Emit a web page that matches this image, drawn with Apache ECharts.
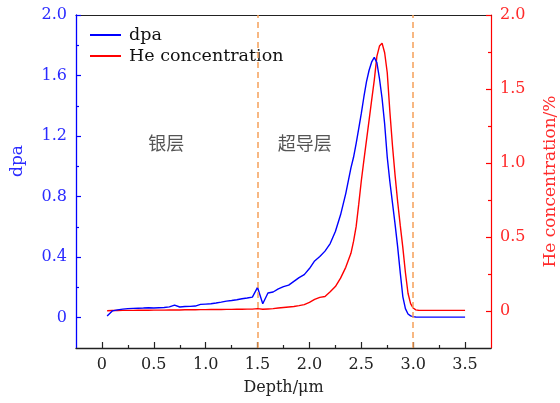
<!DOCTYPE html>
<html>
<head>
<meta charset="utf-8">
<script src="https://cdn.jsdelivr.net/npm/echarts@6/dist/echarts.min.js"></script>
<style>html,body{margin:0;padding:0;background:#fff}#c{width:560px;height:403px}</style>
</head>
<body>
<div id="c"></div>
<script>
// ---- data ----
const depth = [0.05,0.10,0.15,0.20,0.25,0.30,0.35,0.40,0.45,0.50,0.55,0.60,0.65,0.70,0.75,0.80,0.85,0.90,0.95,1.00,
  1.05,1.10,1.15,1.20,1.25,1.30,1.35,1.40,1.45,1.50,1.55,1.60,1.65,1.70,1.75,1.80,1.85,1.90,1.95,2.00,
  2.05,2.10,2.15,2.20,2.25,2.30,2.35,2.40,2.425,2.45,2.475,2.50,2.525,2.55,2.575,2.60,2.625,2.65,2.675,2.70,
  2.725,2.75,2.775,2.80,2.825,2.85,2.875,2.90,2.925,2.95,2.975,3.00,3.025,3.05,3.10,3.15,3.20,3.25,3.30,3.35,3.40,3.45,3.50];
const dpa = [0.011,0.045,0.052,0.057,0.060,0.062,0.063,0.064,0.066,0.064,0.066,0.068,0.072,0.083,0.071,0.074,0.075,0.077,0.088,0.090,
  0.092,0.097,0.103,0.110,0.114,0.119,0.125,0.130,0.136,0.200,0.092,0.163,0.170,0.190,0.205,0.215,0.240,0.265,0.285,0.325,
  0.375,0.405,0.440,0.490,0.570,0.680,0.820,0.990,1.060,1.150,1.250,1.350,1.460,1.560,1.635,1.690,1.720,1.685,1.580,1.450,
  1.280,1.060,0.900,0.760,0.620,0.470,0.300,0.140,0.060,0.025,0.012,0.007,0.005,0.004,0.004,0.004,0.004,0.004,0.004,0.004,0.004,0.004,0.004];
const he = [0.002,0.003,0.003,0.004,0.004,0.004,0.005,0.005,0.005,0.006,0.006,0.006,0.007,0.007,0.007,0.008,0.008,0.008,0.009,0.009,
  0.010,0.010,0.010,0.011,0.011,0.012,0.012,0.013,0.013,0.016,0.012,0.014,0.016,0.020,0.024,0.027,0.030,0.036,0.043,0.058,
  0.078,0.092,0.098,0.130,0.165,0.222,0.295,0.390,0.470,0.570,0.720,0.880,1.020,1.155,1.290,1.426,1.560,1.720,1.790,1.810,
  1.745,1.610,1.350,1.120,0.920,0.740,0.580,0.430,0.260,0.120,0.050,0.020,0.008,0.005,0.004,0.004,0.004,0.004,0.004,0.004,0.004,0.004,0.004];
const xMajor = [0,0.5,1.0,1.5,2.0,2.5,3.0,3.5];
const xMinor = [0.25,0.75,1.25,1.75,2.25,2.75,3.25];
const yLeftMajor = [0,0.4,0.8,1.2,1.6,2.0];
const yLeftMinor = [0.2,0.6,1.0,1.4,1.8];
const yRightMajor = [0,0.5,1.0,1.5,2.0];
const yRightMinor = [0.25,0.75,1.25,1.75];
const layerLines = [1.5, 3.0];
const layerNames = ['银层','超导层'];
const layerLabelPos = [[0.62,1.155],[1.955,1.155]];

// ---- chart ----
const serif = 'DejaVu Serif';
const BLUE = '#0000ff', RED = '#ff0000', ORANGE = '#f5a05a';
const fmt = v => v === 0 ? '0' : v.toFixed(1);
const chart = echarts.init(document.getElementById('c'), null, {renderer:'canvas'});
const xBase = {type:'value', min:-0.25, max:3.75, gridIndex:0, splitLine:{show:false}};
const yLBase = {type:'value', min:-0.2, max:2.0, splitLine:{show:false}};
const yRBase = {type:'value', min:-0.25, max:2.0, splitLine:{show:false}};
chart.setOption({
  animation:false,
  grid:{left:76, right:69, top:15, bottom:55, containLabel:false, outerBoundsMode:'none'},
  legend:{
    orient:'vertical', left:90, top:26, padding:0, itemWidth:31, itemHeight:2, itemGap:3, icon:'rect',
    data:['dpa','He concentration'],
    textStyle:{fontFamily:serif, fontSize:17.5, color:'#111', padding:[0,0,0,3]}
  },
  xAxis:[
    Object.assign({}, xBase, {
      position:'bottom',
      name:'Depth/μm', nameLocation:'middle', nameGap:32,
      nameTextStyle:{fontFamily:serif, fontSize:16, color:'#222'},
      axisLine:{onZero:false, lineStyle:{color:'#222', width:1.3}},
      axisTick:{inside:true, length:6, customValues:xMajor, lineStyle:{color:'#222', width:1.2}},
      axisLabel:{customValues:xMajor, formatter:fmt, margin:9, fontFamily:serif, fontSize:16, color:'#222'}
    }),
    Object.assign({}, xBase, {
      position:'bottom',
      axisLine:{show:false, onZero:false},
      axisTick:{inside:true, length:3, customValues:xMinor, lineStyle:{color:'#222', width:1.2}},
      axisLabel:{show:false}
    }),
    Object.assign({}, xBase, {
      position:'top',
      axisLine:{onZero:false, lineStyle:{color:'#222', width:1.2}},
      axisTick:{show:false}, axisLabel:{show:false}
    })
  ],
  yAxis:[
    Object.assign({}, yLBase, {
      position:'left',
      axisLine:{show:true, onZero:false, lineStyle:{color:BLUE, width:1.3}},
      axisTick:{show:true, inside:true, length:5, customValues:yLeftMajor, lineStyle:{color:BLUE, width:1.2}},
      axisLabel:{customValues:yLeftMajor, formatter:fmt, margin:9, fontFamily:serif, fontSize:16, color:'#2a2aff'}
    }),
    Object.assign({}, yRBase, {
      position:'right',
      name:'He concentration/%', nameLocation:'middle', nameGap:51, nameRotate:90,
      nameTextStyle:{fontFamily:serif, fontSize:17, color:'#ff2a2a'},
      axisLine:{show:true, onZero:false, lineStyle:{color:RED, width:1.2}},
      axisTick:{show:true, inside:true, length:5, customValues:yRightMajor, lineStyle:{color:RED, width:1.2}},
      axisLabel:{customValues:yRightMajor, formatter:fmt, margin:9, fontFamily:serif, fontSize:16, color:'#ff2a2a'}
    }),
    Object.assign({}, yLBase, {
      position:'left',
      axisLine:{show:false, onZero:false},
      axisTick:{show:true, inside:true, length:3, customValues:yLeftMinor, lineStyle:{color:BLUE, width:1.2}},
      axisLabel:{show:false}
    }),
    Object.assign({}, yRBase, {
      position:'right',
      axisLine:{show:false, onZero:false},
      axisTick:{show:true, inside:true, length:3, customValues:yRightMinor, lineStyle:{color:RED, width:1.2}},
      axisLabel:{show:false}
    })
  ],
  graphic:[{
    type:'text', x:18, y:161, rotation:Math.PI/2,
    style:{text:'dpa', fontFamily:serif, fontSize:17, fill:'#2a2aff', align:'center', verticalAlign:'middle'}
  }],
  series:[
    {
      name:'dpa', type:'line', xAxisIndex:0, yAxisIndex:0, symbol:'none', smooth:false,
      lineStyle:{color:BLUE, width:1.4}, itemStyle:{color:BLUE},
      data: depth.map((d,i)=>[d, dpa[i]]),
      markLine:{
        silent:true, symbol:'none', label:{show:false},
        lineStyle:{color:ORANGE, type:[6,4], width:1.5},
        data: layerLines.map(v=>({xAxis:v}))
      },
      z:3
    },
    {
      name:'He concentration', type:'line', xAxisIndex:0, yAxisIndex:1, symbol:'none', smooth:false,
      lineStyle:{color:RED, width:1.4}, itemStyle:{color:RED},
      data: depth.map((d,i)=>[d, he[i]]),
      z:2
    },
    {
      name:'layers', type:'scatter', xAxisIndex:0, yAxisIndex:0, symbolSize:0, silent:true,
      data: layerLabelPos.map((p,i)=>[p[0], p[1], layerNames[i]]),
      label:{show:true, position:'inside', formatter:p=>p.data[2], fontFamily:'Noto Sans CJK SC', fontSize:18, color:'#2a2a2a'}
    }
  ]
});
</script>
</body>
</html>
